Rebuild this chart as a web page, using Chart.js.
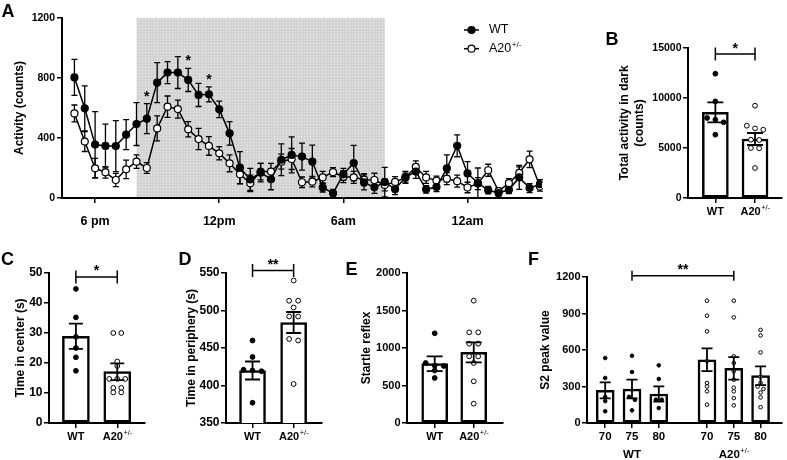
<!DOCTYPE html>
<html>
<head>
<meta charset="utf-8">
<script src="https://cdn.jsdelivr.net/npm/chart.js@4"></script>
<style>
  body { margin: 0; background: #fff; }
  #fig { position: relative; width: 787px; height: 460px; overflow: hidden; font-family: Arial, "Liberation Sans", sans-serif; }
  #fig canvas { position: absolute; }
  .tag { position: absolute; font-weight: bold; font-size: 18px; line-height: 18px; }
</style>
</head>
<body>
<div id="fig">
  <canvas id="cA" width="560" height="235" style="left:0;top:0"></canvas>
  <canvas id="cB" width="227" height="235" style="left:560px;top:0"></canvas>
  <canvas id="cC" width="180" height="225" style="left:0;top:235px"></canvas>
  <canvas id="cD" width="170" height="225" style="left:180px;top:235px"></canvas>
  <canvas id="cE" width="175" height="225" style="left:350px;top:235px"></canvas>
  <canvas id="cF" width="262" height="225" style="left:525px;top:235px"></canvas>
  <div class="tag" style="left:1.5px;top:2px">A</div>
  <div class="tag" style="left:605.5px;top:29.5px">B</div>
  <div class="tag" style="left:1px;top:249.5px">C</div>
  <div class="tag" style="left:178.5px;top:249.5px">D</div>
  <div class="tag" style="left:345.5px;top:259.5px">E</div>
  <div class="tag" style="left:528px;top:249.5px">F</div>
</div>
<script>
// ---- A: activity over time (30 min bins, first bin = 5 pm) ----
const hourTicks = [2, 14, 26, 38];
const hourLabels = ['6 pm', '12pm', '6am', '12am'];
const darkFrom = 6, darkTo = 30;
const wtActivity = [804, 598, 356, 347, 346, 422, 493, 529, 769, 836, 836, 787, 687, 691, 591, 431, 202, 124, 169, 125,
  255, 287, 276, 242, 70, 32, 158, 233, 104, 71, 106, 58, 138, 176, 58, 73, 198, 348, 164, 100, 52, 33, 55, 137, 66, 92];
const wtActivitySem = [120, 150, 220, 146, 170, 100, 143, 100, 133, 73, 106, 77, 77, 50, 55, 78, 107, 74, 62, 70,
  106, 120, 90, 110, 30, 25, 40, 118, 50, 40, 98, 35, 40, 45, 25, 30, 90, 73, 78, 100, 25, 20, 25, 80, 30, 30];
const a20Activity = [564, 376, 198, 171, 120, 191, 242, 200, 464, 609, 593, 458, 393, 347, 298, 231, 158, 98, 176, 176,
  242, 260, 105, 109, 138, 172, 142, 138, 122, 120, 87, 107, 136, 207, 137, 116, 129, 112, 70, 96, 185, 46, 99, 167, 258, 76];
const a20ActivitySem = [56, 66, 66, 38, 44, 62, 45, 36, 83, 71, 60, 51, 71, 62, 44, 56, 62, 55, 55, 55,
  50, 70, 35, 35, 40, 30, 40, 40, 40, 45, 40, 35, 30, 40, 40, 30, 40, 40, 35, 40, 40, 20, 30, 40, 55, 30];
const starBinsA = [7, 11, 13];

// ---- B-E: two genotypes ----
const genotypes = ['WT', 'A20^+/-'];
const darkTotalMean = [8560, 5900];
const darkTotalSem = [1000, 600];
const darkTotalWT = [12430, 9660, 8000, 7830, 7570, 6330];
const darkTotalA20 = [9230, 7230, 6960, 6830, 5830, 5800, 5000, 4970, 3000];

const centerMean = [28.9, 17.1];
const centerSem = [4.2, 2.8];
const centerWT = [44.7, 35.2, 28.7, 25, 21.9, 17.4];
const centerA20 = [30, 30, 20.5, 19, 14.7, 14.7, 14.7, 11.7, 11.7, 10.2, 10.2];

const peripheryMean = [420, 484];
const peripherySem = [12, 14];
const peripheryWT = [460, 438, 421, 420, 419, 377];
const peripheryA20 = [540, 513, 513, 504, 492, 492, 462, 460, 402];

const startleMean = [791, 942];
const startleSem = [98, 134];
const startleWT = [1196, 800, 765, 760, 700, 600];
const startleA20 = [1631, 1209, 1209, 1058, 1058, 889, 889, 800, 556, 258];

// ---- F: S2 peak value by stimulus (dB) ----
const stimLevels = ['70', '75', '80'];
const s2MeanWT = [268, 279, 238];
const s2SemWT = [66, 77, 63];
const s2MeanA20 = [520, 449, 389];
const s2SemA20 = [94, 93, 77];
const s2DotsWT = [[534, 370, 215, 180, 96], [553, 419, 215, 190, 104], [474, 362, 192, 192, 123]];
const s2DotsA20 = [[1005, 882, 753, 510, 329, 300, 260, 151],
  [1005, 868, 548, 493, 425, 356, 290, 260, 205, 145],
  [765, 720, 580, 380, 330, 300, 280, 250, 210, 130]];

Chart.defaults.font.family = 'Arial, "Liberation Sans", sans-serif';
Chart.defaults.color = '#000';
Chart.defaults.animation = false;

// text with an optional superscript part after '^'
function drawRich(ctx, text, x, y, font, supFont, align) {
  const [main, sup] = text.split('^');
  ctx.font = font;
  const w1 = ctx.measureText(main).width;
  let w2 = 0;
  if (sup) { ctx.font = supFont; w2 = ctx.measureText(sup).width; }
  const left = align === 'left' ? x : x - (w1 + w2) / 2;
  ctx.textAlign = 'left';
  ctx.textBaseline = 'middle';
  ctx.font = font;
  ctx.fillText(main, left, y);
  if (sup) { ctx.font = supFont; ctx.fillText(sup, left + w1 + 0.5, y - 4); }
}

function shadePattern(ctx) {
  const c = document.createElement('canvas');
  c.width = 3; c.height = 3;
  const g = c.getContext('2d');
  g.fillStyle = '#d3d3d3';
  g.fillRect(0, 0, 3, 3);
  g.fillStyle = '#efefef';
  g.fillRect(1, 1, 1, 1);
  return ctx.createPattern(c, 'repeat');
}

const plainNumber = v => String(v);

const actMarks = {
  id: 'actMarks',
  beforeDraw(chart, args, o) {
    const { ctx, scales: { x, y } } = chart;
    const x0 = x.getPixelForValue(o.shadeFrom), x1 = x.getPixelForValue(o.shadeTo);
    const y0 = y.getPixelForValue(y.max), y1 = y.getPixelForValue(y.min);
    ctx.save();
    ctx.fillStyle = shadePattern(ctx);
    ctx.fillRect(x0, y0, x1 - x0, y1 - y0);
    ctx.restore();
  },
  beforeDatasetsDraw(chart, args, o) {
    const { ctx, scales: { x, y } } = chart;
    ctx.save();
    ctx.strokeStyle = '#000';
    ctx.lineWidth = 1.3;
    chart.data.datasets.forEach(ds => {
      ds.data.forEach((p, i) => {
        const px = x.getPixelForValue(p.x);
        const yt = y.getPixelForValue(p.y + ds.sem[i]);
        const yb = y.getPixelForValue(p.y - ds.sem[i]);
        ctx.beginPath();
        ctx.moveTo(px, yt); ctx.lineTo(px, yb);
        ctx.moveTo(px - o.cap / 2, yt); ctx.lineTo(px + o.cap / 2, yt);
        ctx.moveTo(px - o.cap / 2, yb); ctx.lineTo(px + o.cap / 2, yb);
        ctx.stroke();
      });
    });
    ctx.restore();
  },
  afterDatasetsDraw(chart, args, o) {
    const { ctx, scales: { x, y } } = chart;
    const wt = chart.data.datasets[0];
    ctx.save();
    ctx.fillStyle = '#000';
    ctx.font = 'bold 14px Arial, "Liberation Sans", sans-serif';
    ctx.textAlign = 'center';
    ctx.textBaseline = 'alphabetic';
    o.stars.forEach(i => {
      ctx.fillText('*', x.getPixelForValue(i), y.getPixelForValue(wt.data[i].y + wt.sem[i]) - 3);
    });
    // legend: line with marker, then label
    chart.data.datasets.forEach((ds, k) => {
      const ly = o.legendY + k * o.legendGap;
      ctx.strokeStyle = '#000';
      ctx.lineWidth = 1.5;
      ctx.beginPath();
      ctx.moveTo(o.legendX, ly); ctx.lineTo(o.legendX + 15, ly);
      ctx.stroke();
      ctx.beginPath();
      ctx.arc(o.legendX + 7.5, ly, 3.5, 0, Math.PI * 2);
      ctx.fillStyle = ds.pointBackgroundColor;
      ctx.fill();
      ctx.lineWidth = 1.2;
      ctx.stroke();
      ctx.fillStyle = '#000';
      drawRich(ctx, ds.label, o.legendX + 25, ly, '12.5px Arial, "Liberation Sans", sans-serif',
        '8px Arial, "Liberation Sans", sans-serif', 'left');
    });
    ctx.restore();
  }
};

const toPoints = vals => vals.map((v, i) => ({ x: i, y: v }));

new Chart(document.getElementById('cA'), {
  type: 'line',
  data: {
    datasets: [
      { label: 'WT', data: toPoints(wtActivity), sem: wtActivitySem, borderColor: '#000', borderWidth: 1.5,
        pointRadius: 3.5, pointBorderWidth: 1.2, pointBackgroundColor: '#000', pointBorderColor: '#000' },
      { label: 'A20^+/-', data: toPoints(a20Activity), sem: a20ActivitySem, borderColor: '#000', borderWidth: 1.5,
        pointRadius: 3.5, pointBorderWidth: 1.2, pointBackgroundColor: '#fff', pointBorderColor: '#000' }
    ]
  },
  options: {
    responsive: false,
    layout: { padding: { left: 0, top: 18, right: 18, bottom: 0 } },
    plugins: {
      legend: { display: false },
      tooltip: { enabled: false },
      actMarks: { shadeFrom: darkFrom, shadeTo: darkTo, cap: 6, stars: starBinsA, legendX: 464, legendY: 30, legendGap: 18.7 }
    },
    scales: {
      x: {
        type: 'linear', min: -1.2, max: 45.2,
        afterBuildTicks: s => { s.ticks = hourTicks.map(v => ({ value: v })); },
        afterFit: s => { s.height = 37; },
        ticks: { autoSkip: false, maxRotation: 0, padding: 11, font: { size: 12.5, weight: 'bold' },
          callback: (v, i) => hourLabels[i] },
        grid: { drawOnChartArea: false, tickLength: 5, color: '#000', lineWidth: 1.5 },
        border: { color: '#000', width: 2 }
      },
      y: {
        min: 0, max: 1200,
        afterFit: s => { s.width = 62; },
        ticks: { stepSize: 400, padding: 2, font: { size: 10.5, weight: 'bold' }, callback: plainNumber },
        grid: { drawOnChartArea: false, tickLength: 5, color: '#000', lineWidth: 1.5 },
        border: { color: '#000', width: 2 },
        title: { display: true, text: 'Activity (counts)', font: { size: 12, weight: 'bold' }, padding: { top: 12, bottom: 0 } }
      }
    }
  },
  plugins: [actMarks]
});

// spread dots with close values side by side
function swarm(values, center, tol, step) {
  const order = values.map((v, i) => i).sort((a, b) => values[b] - values[a]);
  const out = new Array(values.length);
  let cluster = [];
  const flush = () => {
    cluster.forEach((idx, k) => {
      out[idx] = { x: center + (k - (cluster.length - 1) / 2) * step, y: values[idx] };
    });
    cluster = [];
  };
  order.forEach(idx => {
    if (cluster.length && values[cluster[cluster.length - 1]] - values[idx] >= tol) flush();
    cluster.push(idx);
  });
  flush();
  return out;
}

const barMarks = {
  id: 'barMarks',
  afterDatasetsDraw(chart, args, o) {
    const { ctx, chartArea: a, scales: { x, y } } = chart;
    ctx.save();
    ctx.strokeStyle = '#000';
    ctx.fillStyle = '#000';
    ctx.lineWidth = 1.8;
    o.positions.forEach((pos, i) => {
      const px = x.getPixelForValue(pos);
      const yt = y.getPixelForValue(o.means[i] + o.sems[i]);
      const yb = y.getPixelForValue(o.means[i] - o.sems[i]);
      ctx.beginPath();
      ctx.moveTo(px, yt); ctx.lineTo(px, yb);
      ctx.moveTo(px - o.cap / 2, yt); ctx.lineTo(px + o.cap / 2, yt);
      ctx.moveTo(px - o.cap / 2, yb); ctx.lineTo(px + o.cap / 2, yb);
      ctx.stroke();
    });
    o.brackets.forEach(b => {
      const x0 = x.getPixelForValue(b.from), x1 = x.getPixelForValue(b.to), py = y.getPixelForValue(b.y);
      ctx.lineWidth = 1.5;
      ctx.beginPath();
      ctx.moveTo(x0, py); ctx.lineTo(x1, py);
      ctx.moveTo(x0, py - o.tick); ctx.lineTo(x0, py + o.tick);
      ctx.moveTo(x1, py - o.tick); ctx.lineTo(x1, py + o.tick);
      ctx.stroke();
      ctx.font = 'bold 14px Arial, "Liberation Sans", sans-serif';
      ctx.textAlign = 'center';
      ctx.textBaseline = 'alphabetic';
      ctx.fillText(b.text, (x0 + x1) / 2, py - 1.5);
    });
    const font = 'bold ' + o.labelSize + 'px Arial, "Liberation Sans", sans-serif';
    const supFont = '7.5px Arial, "Liberation Sans", sans-serif';
    o.positions.forEach((pos, i) => {
      drawRich(ctx, o.labels[i], x.getPixelForValue(pos), a.bottom + 13.5, font, supFont, 'center');
    });
    (o.groups || []).forEach(g => {
      drawRich(ctx, g.text, x.getPixelForValue(g.at), a.bottom + 32, font, supFont, 'center');
    });
    ctx.restore();
  }
};

function barPanel(c) {
  const canvas = document.getElementById(c.id);
  const areaW = canvas.width - c.yWidth - c.padRight;
  const areaH = canvas.height - c.padTop - 37;
  const tol = c.dotTolPx * (c.yMax - c.yMin) / areaH;
  const step = c.dotStepPx * (c.xMax - c.xMin) / areaW;
  const dotSets = c.dots.map((vals, i) => ({
    type: 'scatter', order: 1,
    data: swarm(vals, c.positions[i], tol, step),
    pointRadius: c.dotR, pointBorderWidth: 1,
    pointBackgroundColor: c.filled[i] ? '#000' : '#fff', pointBorderColor: '#000'
  }));
  const axisGrid = { drawOnChartArea: false, tickLength: 5, color: '#000', lineWidth: 1.5 };
  return new Chart(canvas, {
    type: 'bar',
    data: {
      datasets: [{
        type: 'bar', order: 2,
        data: c.positions.map((p, i) => ({ x: p, y: c.means[i] })),
        backgroundColor: '#fff', borderColor: '#000', borderWidth: 2.5, borderSkipped: false,
        barThickness: c.barW
      }].concat(dotSets)
    },
    options: {
      responsive: false,
      layout: { padding: { left: 0, top: c.padTop, right: c.padRight, bottom: 0 } },
      plugins: {
        legend: { display: false },
        tooltip: { enabled: false },
        barMarks: { positions: c.positions, means: c.means, sems: c.sems, cap: c.cap, brackets: c.brackets,
          tick: c.bracketTick, labels: c.labels, groups: c.groups, labelSize: c.labelSize }
      },
      scales: {
        x: {
          type: 'linear', min: c.xMin, max: c.xMax, offset: false,
          afterBuildTicks: s => { s.ticks = c.positions.map(v => ({ value: v })); },
          afterFit: s => { s.height = 37; },
          ticks: { display: false, autoSkip: false },
          grid: Object.assign({}, axisGrid, { offset: false }),
          border: { color: '#000', width: 2 }
        },
        y: {
          min: c.yMin, max: c.yMax, beginAtZero: false,
          afterFit: s => { s.width = c.yWidth; },
          ticks: { stepSize: c.yStep, padding: 1.5, font: { size: c.tickSize, weight: 'bold' }, callback: plainNumber },
          grid: axisGrid,
          border: { color: '#000', width: 2 },
          title: { display: true, text: c.yTitle, font: { size: 12, weight: 'bold', lineHeight: 1.25 },
            padding: { top: c.titlePad, bottom: 0 } }
        }
      }
    },
    plugins: [barMarks]
  });
}

const twoPos = genotypes.map((g, i) => i);

barPanel({ id: 'cB', positions: twoPos, means: darkTotalMean, sems: darkTotalSem,
  dots: [darkTotalWT, darkTotalA20], filled: [true, false], labels: genotypes,
  yMin: 0, yMax: 15000, yStep: 5000, yTitle: ['Total activity in dark', '(counts)'],
  yWidth: 128, padTop: 48, padRight: 2, titlePad: 57.5, tickSize: 10.5, labelSize: 11,
  xMin: -0.69, xMax: 1.68, barW: 26, cap: 16, dotR: 2.4, dotTolPx: 4.5, dotStepPx: 8.5,
  brackets: [{ from: 0, to: 1, y: 14400, text: '*' }], bracketTick: 6.5 });

barPanel({ id: 'cC', positions: twoPos, means: centerMean, sems: centerSem,
  dots: [centerWT, centerA20], filled: [true, false], labels: genotypes,
  yMin: 0, yMax: 50, yStep: 10, yTitle: 'Time in center (s)',
  yWidth: 49, padTop: 38, padRight: 35, titlePad: 12.8, tickSize: 12, labelSize: 11,
  xMin: -0.65, xMax: 1.67, barW: 27, cap: 14, dotR: 2.4, dotTolPx: 4.5, dotStepPx: 8,
  brackets: [{ from: 0, to: 1, y: 48.7, text: '*' }], bracketTick: 6.5 });

barPanel({ id: 'cD', positions: twoPos, means: peripheryMean, sems: peripherySem,
  dots: [peripheryWT, peripheryA20], filled: [true, false], labels: genotypes,
  yMin: 350, yMax: 550, yStep: 50, yTitle: 'Time in periphery (s)',
  yWidth: 46, padTop: 38, padRight: 28, titlePad: 3.8, tickSize: 12, labelSize: 11,
  xMin: -0.645, xMax: 1.69, barW: 26, cap: 15, dotR: 2.4, dotTolPx: 4.5, dotStepPx: 9,
  brackets: [{ from: 0, to: 1, y: 553.5, text: '**' }], bracketTick: 6.5 });

barPanel({ id: 'cE', positions: twoPos, means: startleMean, sems: startleSem,
  dots: [startleWT, startleA20], filled: [true, false], labels: genotypes,
  yMin: 0, yMax: 2000, yStep: 500, yTitle: 'Startle reflex',
  yWidth: 57, padTop: 38, padRight: 22, titlePad: 8.8, tickSize: 11, labelSize: 11,
  xMin: -0.71, xMax: 1.75, barW: 26, cap: 16, dotR: 2.4, dotTolPx: 4.5, dotStepPx: 9,
  brackets: [], bracketTick: 6.5 });

// F: three levels per genotype, small gap between genotype groups
const groupGap = 0.8;
const fPos = [], fMeans = [], fSems = [], fDots = [], fFilled = [], fLabels = [];
[[s2MeanWT, s2SemWT, s2DotsWT], [s2MeanA20, s2SemA20, s2DotsA20]].forEach(([m, s, d], g) => {
  stimLevels.forEach((lvl, l) => {
    fPos.push(g * (stimLevels.length + groupGap) + l);
    fMeans.push(m[l]); fSems.push(s[l]); fDots.push(d[l]);
    fFilled.push(g === 0); fLabels.push(lvl);
  });
});

barPanel({ id: 'cF', positions: fPos, means: fMeans, sems: fSems,
  dots: fDots, filled: fFilled, labels: fLabels,
  groups: genotypes.map((t, g) => ({ at: fPos[g * 3 + 1], text: t })),
  yMin: 0, yMax: 1200, yStep: 300, yTitle: 'S2 peak value',
  yWidth: 62, padTop: 42, padRight: 0.5, titlePad: 12.8, tickSize: 11, labelSize: 11.5,
  xMin: -0.68, xMax: 6.6, barW: 18, cap: 11, dotR: 1.8, dotTolPx: 3.5, dotStepPx: 6,
  brackets: [{ from: fPos[1], to: fPos[4], y: 1211, text: '**' }], bracketTick: 5 });
</script>
</body>
</html>
